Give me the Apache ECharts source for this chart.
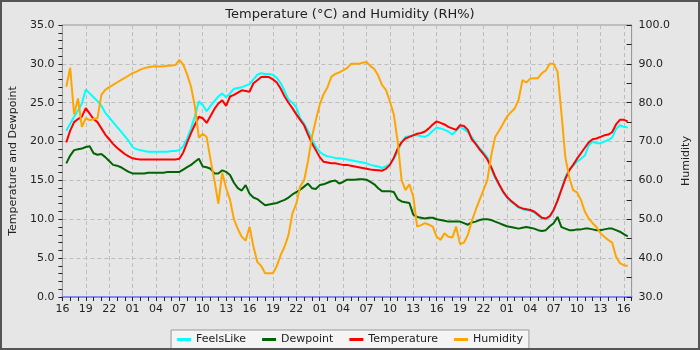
<!DOCTYPE html>
<html>
<head>
<meta charset="utf-8">
<script src="https://cdn.jsdelivr.net/npm/echarts@6/dist/echarts.min.js"></script>
<style>
    html, body { margin: 0; padding: 0; background: #e6e6e6; }
    #chart { width: 700px; height: 350px; }
</style>
</head>
<body>
<div id="chart"></div>
<script>
// hours since 16:00 on the first day, one reading every half hour
const hours = [
    0.5, 1, 1.5, 2, 2.5, 3, 3.5, 4, 4.5, 5,
    5.5, 6, 6.5, 7, 7.5, 8, 8.5, 9, 9.5, 10,
    10.5, 11, 11.5, 12, 12.5, 13, 13.5, 14, 14.5, 15,
    15.5, 16, 16.5, 17, 17.5, 18, 18.5, 19, 19.5, 20,
    20.5, 21, 21.5, 22, 22.5, 23, 23.5, 24, 24.5, 25,
    25.5, 26, 26.5, 27, 27.5, 28, 28.5, 29, 29.5, 30,
    30.5, 31, 31.5, 32, 32.5, 33, 33.5, 34, 34.5, 35,
    35.5, 36, 36.5, 37, 37.5, 38, 38.5, 39, 39.5, 40,
    40.5, 41, 41.5, 42, 42.5, 43, 43.5, 44, 44.5, 45,
    45.5, 46, 46.5, 47, 47.5, 48, 48.5, 49, 49.5, 50,
    50.5, 51, 51.5, 52, 52.5, 53, 53.5, 54, 54.5, 55,
    55.5, 56, 56.5, 57, 57.5, 58, 58.5, 59, 59.5, 60,
    60.5, 61, 61.5, 62, 62.5, 63, 63.5, 64, 64.5, 65,
    65.5, 66, 66.5, 67, 67.5, 68, 68.5, 69, 69.5, 70,
    70.5, 71, 71.5, 72, 72.5]

const feelsLike = [
    21.4, 22.3, 23.2, 24.0, 24.9, 26.7, 26.2, 25.7, 25.2, 24.6,
    23.7, 23.1, 22.5, 21.9, 21.3, 20.7, 20.1, 19.3, 19.0, 18.9,
    18.8, 18.7, 18.7, 18.7, 18.7, 18.7, 18.7, 18.8, 18.8, 18.9,
    19.4, 20.4, 21.7, 23.3, 25.2, 24.7, 23.9, 24.6, 25.2, 25.8,
    26.2, 25.7, 26.2, 26.8, 26.9, 27.0, 27.2, 27.4, 28.0, 28.6,
    28.8, 28.7, 28.7, 28.6, 28.2, 27.5, 26.5, 25.4, 25.0, 24.4,
    23.0, 22.3, 21.4, 20.3, 19.3, 18.7, 18.3, 18.1, 18.0, 17.9,
    17.85, 17.8, 17.7, 17.6, 17.5, 17.4, 17.3, 17.2, 17.0, 16.9,
    16.8, 16.6, 16.8, 17.1, 17.8, 18.7, 19.9, 20.6, 20.7, 20.8,
    20.8, 20.7, 20.6, 20.9, 21.4, 21.8, 21.7, 21.5, 21.3, 20.9,
    21.4, 21.9, 21.6, 21.2, 20.6, 19.8, 19.2, 18.6, 18.0, 16.5,
    15.3, 14.4, 13.5, 12.8, 12.3, 11.9, 11.5, 11.3, 11.2, 11.1,
    10.9, 10.5, 10.1, 10.0, 10.3, 11.1, 12.4, 13.9, 15.4, 16.4,
    16.9, 17.4, 17.8, 18.2, 19.5, 20.0, 19.8, 19.8, 20.0, 20.2,
    20.5, 21.6, 22.1, 21.9, 21.8]

const dewpoint = [
    17.2, 18.2, 18.9, 19.0, 19.1, 19.3, 19.4, 18.5, 18.3, 18.4,
    18.0, 17.5, 17.0, 16.9, 16.7, 16.4, 16.1, 15.9, 15.9, 15.9,
    15.9, 16.0, 16.0, 16.0, 16.0, 16.0, 16.1, 16.1, 16.1, 16.1,
    16.4, 16.7, 17.0, 17.4, 17.8, 16.8, 16.7, 16.5, 15.9, 15.9,
    16.3, 16.1, 15.7, 14.7, 14.0, 13.7, 14.4, 13.3, 12.8, 12.6,
    12.2, 11.8, 11.9, 12.0, 12.1, 12.3, 12.5, 12.8, 13.2, 13.5,
    13.8, 14.2, 14.6, 14.0, 13.9, 14.4, 14.5, 14.7, 14.9, 15.0,
    14.6, 14.8, 15.1, 15.1, 15.1, 15.15, 15.15, 15.1, 14.8, 14.5,
    14.0, 13.6, 13.6, 13.6, 13.5, 12.6, 12.3, 12.2, 12.1, 10.6,
    10.3, 10.2, 10.1, 10.2, 10.2, 10.0, 9.9, 9.8, 9.7, 9.7,
    9.7, 9.7, 9.5, 9.3, 9.6, 9.7, 9.9, 10.0, 10.0, 9.9,
    9.7, 9.5, 9.3, 9.1, 9.0, 8.9, 8.8, 8.9, 9.0, 8.9,
    8.8, 8.6, 8.5, 8.6, 9.1, 9.5, 10.3, 9.0, 8.8, 8.6,
    8.6, 8.7, 8.7, 8.8, 8.8, 8.7, 8.6, 8.6, 8.7, 8.8,
    8.8, 8.6, 8.4, 8.1, 7.8]

const temperature = [
    19.9, 21.4, 22.5, 22.9, 23.2, 24.3, 23.6, 22.9, 22.5, 21.7,
    20.9, 20.3, 19.7, 19.2, 18.8, 18.4, 18.1, 17.85, 17.75, 17.7,
    17.7, 17.7, 17.7, 17.7, 17.7, 17.7, 17.7, 17.7, 17.7, 17.8,
    18.6, 19.9, 21.1, 22.2, 23.2, 23.0, 22.4, 23.3, 24.2, 24.9,
    25.3, 24.6, 25.8, 26.0, 26.3, 26.6, 26.5, 26.4, 27.5, 27.9,
    28.3, 28.35, 28.3, 28.0, 27.6, 26.8, 25.8, 25.0, 24.3, 23.5,
    22.8, 22.1, 20.9, 19.8, 18.9, 18.0, 17.4, 17.3, 17.2, 17.2,
    17.1, 17.0, 17.0, 16.9, 16.8, 16.7, 16.6, 16.5, 16.4, 16.35,
    16.3, 16.25, 16.5, 17.0, 17.9, 19.1, 19.9, 20.4, 20.6, 20.8,
    21.0, 21.1, 21.3, 21.7, 22.2, 22.6, 22.4, 22.2, 21.9, 21.7,
    21.5, 22.1, 22.0, 21.5, 20.3, 19.7, 19.0, 18.4, 17.7, 16.7,
    15.5, 14.5, 13.6, 12.9, 12.4, 12.0, 11.6, 11.4, 11.3, 11.2,
    11.0, 10.6, 10.2, 10.1, 10.4, 11.2, 12.4, 13.8, 15.2, 16.3,
    17.0, 17.8, 18.5, 19.2, 19.9, 20.3, 20.4, 20.6, 20.8, 20.9,
    21.2, 22.2, 22.8, 22.8, 22.6]

const humidity = [
    84.1, 89.0, 77.0, 81.1, 73.8, 76.0, 75.5, 75.8, 76.0, 82.0,
    83.3, 84.0, 84.6, 85.2, 85.8, 86.4, 87.0, 87.6, 88.0, 88.5,
    88.9, 89.1, 89.3, 89.4, 89.3, 89.4, 89.5, 89.6, 89.7, 91.0,
    89.8, 87.3, 84.1, 79.0, 71.0, 72.0, 71.2, 65.3, 60.0, 54.0,
    62.0, 58.0, 55.0, 50.0, 47.5, 45.5, 44.5, 48.1, 43.0, 39.0,
    38.0, 36.1, 36.1, 36.1, 38.0, 40.8, 43.0, 46.0, 51.5, 54.0,
    58.5, 60.0, 65.0, 71.2, 75.5, 79.5, 82.2, 84.0, 86.7, 87.4,
    87.8, 88.3, 88.9, 90.0, 90.0, 90.0, 90.3, 90.5, 89.4, 88.7,
    87.0, 84.5, 83.3, 80.3, 77.0, 70.0, 60.1, 57.5, 59.0, 55.8,
    48.1, 48.5, 49.0, 48.6, 48.1, 45.5, 44.7, 46.4, 45.5, 45.3,
    48.1, 43.6, 44.0, 46.0, 49.5, 52.4, 55.0, 57.5, 60.1, 66.5,
    71.2, 72.8, 74.5, 76.4, 77.5, 78.5, 80.7, 85.8, 85.2, 86.2,
    86.3, 86.3, 87.6, 88.3, 90.0, 90.0, 88.0, 77.3, 66.0, 60.8,
    57.5, 56.9, 55.0, 52.0, 50.2, 49.0, 48.0, 46.4, 45.5, 44.7,
    44.0, 40.4, 38.7, 38.2, 38.0]

const pair = arr => arr.map((v, i) => [hours[i], v])

const chart = echarts.init(document.getElementById('chart'))

const font = 'DejaVu Sans'
const gridColor = '#bdbdbd'

const option = {
    backgroundColor: '#e6e6e6',
    animation: false,
    textStyle: { fontFamily: font },
    title: {
        text: 'Temperature (°C) and Humidity (RH%)',
        left: 'center',
        top: 3,
        textStyle: { fontFamily: font, fontSize: 13, fontWeight: 'normal', color: '#222' }
    },
    graphic: [
        {
            type: 'rect',
            shape: { x: 1, y: 1, width: 698, height: 348 },
            style: { fill: 'none', stroke: '#555', lineWidth: 2 },
            z: 100
        }
    ],
    legend: {
        data: ['FeelsLike', 'Dewpoint', 'Temperature', 'Humidity'],
        bottom: 1,
        left: 'center',
        backgroundColor: '#f4f4f4',
        borderColor: '#999',
        borderWidth: 1,
        borderRadius: 0,
        padding: [4, 6, 4, 6],
        itemGap: 16,
        itemWidth: 14,
        itemHeight: 3,
        icon: 'rect',
        textStyle: { fontFamily: font, fontSize: 11, color: '#222' }
    },
    grid: {
        left: 55, right: 60, top: 25, bottom: 53,
        show: true,
        borderColor: '#999',
        borderWidth: 1,
        backgroundColor: '#e6e6e6'
    },
    xAxis: {
        type: 'value',
        min: 0,
        max: 73,
        interval: 3,
        axisLine: { lineStyle: { color: '#8888ee', width: 2 } },
        axisTick: { length: 4, lineStyle: { color: '#222' } },
        minorTick: { show: true, splitNumber: 3, length: 4, lineStyle: { color: '#222' } },
        axisLabel: {
            color: '#222', fontSize: 11, margin: 7,
            formatter: v => v % 3 === 0 ? String((16 + v) % 24).padStart(2, '0') : ''
        },
        splitLine: { show: true, lineStyle: { color: gridColor, type: [4, 3] } }
    },
    yAxis: [
        {
            type: 'value',
            min: 0,
            max: 35,
            interval: 5,
            name: 'Temperature and Dewpoint',
            nameLocation: 'middle',
            nameGap: 33,
            nameTextStyle: { fontSize: 11, color: '#222' },
            axisLine: { show: true, lineStyle: { color: '#999' } },
            axisTick: { show: true, length: 4, lineStyle: { color: '#222' } },
            minorTick: { show: true, splitNumber: 5, length: 4, lineStyle: { color: '#222' } },
            axisLabel: { color: '#222', fontSize: 11, margin: 8, formatter: v => v.toFixed(1) },
            splitLine: { show: true, lineStyle: { color: gridColor, type: [4, 3] } }
        },
        {
            type: 'value',
            min: 30,
            max: 100,
            interval: 10,
            position: 'right',
            name: 'Humidity',
            nameLocation: 'middle',
            nameGap: 35,
            nameRotate: 90,
            nameTextStyle: { fontSize: 11, color: '#222' },
            axisLine: { show: true, lineStyle: { color: '#999' } },
            axisTick: { show: true, inside: true, length: 5, lineStyle: { color: '#222' } },
            minorTick: { show: true, splitNumber: 2, length: 5, lineStyle: { color: '#222' } },
            axisLabel: { color: '#222', fontSize: 11, margin: 7, formatter: v => v.toFixed(1) },
            splitLine: { show: false }
        }
    ],
    series: [
        {
            name: 'FeelsLike', type: 'line', yAxisIndex: 0, showSymbol: false,
            data: pair(feelsLike), color: '#00ffff', lineStyle: { width: 2 }
        },
        {
            name: 'Dewpoint', type: 'line', yAxisIndex: 0, showSymbol: false,
            data: pair(dewpoint), color: '#006400', lineStyle: { width: 2 }
        },
        {
            name: 'Temperature', type: 'line', yAxisIndex: 0, showSymbol: false,
            data: pair(temperature), color: '#ff0000', lineStyle: { width: 2 }
        },
        {
            name: 'Humidity', type: 'line', yAxisIndex: 1, showSymbol: false,
            data: pair(humidity), color: '#ffa500', lineStyle: { width: 2 }
        }
    ]
}

chart.setOption(option)
</script>
</body>
</html>
